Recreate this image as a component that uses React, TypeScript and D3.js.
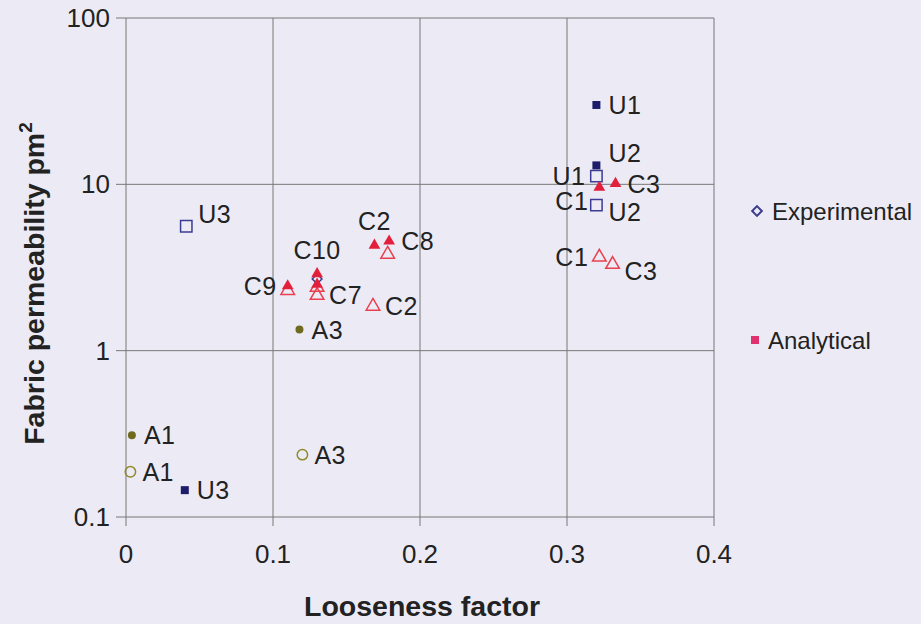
import * as d3 from "d3";

// values (x = looseness factor, y = permeability pm^2)
type Pt = { label: string; x: number; y: number };

const uAnalytical: Pt[] = [
  { label: "U1", x: 0.32, y: 30 },
  { label: "U2", x: 0.32, y: 13 },
  { label: "U3", x: 0.04, y: 0.145 },
];
const uExperimental: Pt[] = [
  { label: "U1", x: 0.32, y: 11.2 },
  { label: "U2", x: 0.32, y: 7.5 },
  { label: "U3", x: 0.041, y: 5.6 },
];
const cAnalytical: Pt[] = [
  { label: "C1", x: 0.322, y: 9.6 },
  { label: "C3", x: 0.333, y: 10.1 },
  { label: "C2", x: 0.169, y: 4.3 },
  { label: "C8", x: 0.179, y: 4.55 },
  { label: "C9", x: 0.11, y: 2.45 },
  { label: "C10", x: 0.13, y: 2.9 },
  { label: "C7", x: 0.13, y: 2.5 },
];
const cExperimental: Pt[] = [
  { label: "C1", x: 0.322, y: 3.65 },
  { label: "C3", x: 0.331, y: 3.3 },
  { label: "C8", x: 0.178, y: 3.8 },
  { label: "C2", x: 0.168, y: 1.85 },
  { label: "C9", x: 0.11, y: 2.3 },
  { label: "C10", x: 0.13, y: 2.4 },
  { label: "C7", x: 0.13, y: 2.15 },
];
const aAnalytical: Pt[] = [
  { label: "A1", x: 0.004, y: 0.31 },
  { label: "A3", x: 0.118, y: 1.34 },
];
const aExperimental: Pt[] = [
  { label: "A1", x: 0.003, y: 0.187 },
  { label: "A3", x: 0.12, y: 0.237 },
];
const diamondPts: Pt[] = [{ label: "", x: 0.13, y: 2.7 }];

const xTicks = [0, 0.1, 0.2, 0.3, 0.4];
const yTicks = [0.1, 1, 10, 100];
const legendItems = ["Experimental", "Analytical"];

// where each label sits relative to its marker
const labelSide: Record<string, string> = {
  "aU1": "right", "aU2": "aboveRight", "aU3": "right",
  "eU1": "left", "eU2": "belowRight", "eU3": "aboveRight",
  "aC1": "belowLeft", "aC3": "right", "aC2": "above", "aC8": "right",
  "aC9": "left", "aC10": "above", "aC7": "none",
  "eC1": "left", "eC3": "belowRight", "eC8": "none", "eC2": "right",
  "eC9": "none", "eC10": "none", "eC7": "right",
  "aA1": "right", "aA3": "right", "eA1": "right", "eA3": "right",
};

const W = 921;
const H = 624;
const left = 126;
const right = 714;
const top = 18;
const bottom = 517;
const FONT = "'Liberation Sans', Arial, sans-serif";

const x = d3.scaleLinear().domain([0, 0.4]).range([left, right]);
const y = d3.scaleLog().domain([0.1, 100]).range([bottom, top]);

const sym = (type: d3.SymbolType, size: number) => d3.symbol().type(type).size(size)() || "";

const Label = ({ p, key2 }: { p: Pt; key2: string }) => {
  const side = labelSide[key2] || "right";
  if (side === "none") return null;
  const cx = x(p.x);
  const cy = y(p.y);
  let dx = 12, dy = 0, anchor = "start";
  if (side === "left") { dx = -11; anchor = "end"; }
  if (side === "above") { dx = 0; dy = -24; anchor = "middle"; }
  if (side === "aboveRight") { dx = 12; dy = -12; }
  if (side === "belowLeft") { dx = -11; dy = 14; anchor = "end"; }
  if (side === "belowRight") { dx = 12; dy = 7; }
  return (
    <text x={cx + dx} y={cy + dy} textAnchor={anchor} dominantBaseline="central"
      fontSize={25} letterSpacing={0.5} fill="#222">
      {p.label}
    </text>
  );
};

const Series = ({ data, path, fill, stroke, prefix }: {
  data: Pt[]; path: string; fill: string; stroke: string; prefix: string;
}) => (
  <g>
    {data.map((p, i) => (
      <path key={i} d={path} transform={`translate(${x(p.x)},${y(p.y)})`}
        fill={fill} stroke={stroke} strokeWidth={1.5} />
    ))}
    {prefix && data.map((p, i) => <Label key={"l" + i} p={p} key2={prefix + p.label} />)}
  </g>
);

export default function App() {
  return (
    <svg width={W} height={H} style={{ position: "absolute", left: 0, top: 0 }} fontFamily={FONT}>
      <rect width={W} height={H} fill="#ecebf5" />

      {/* grid + box */}
      {xTicks.map((t) => (
        <line key={"gx" + t} x1={x(t)} x2={x(t)} y1={top} y2={bottom + 9} stroke="#777" />
      ))}
      {yTicks.map((t) => (
        <line key={"gy" + t} x1={left - 10} x2={right} y1={y(t)} y2={y(t)} stroke="#777" />
      ))}

      {xTicks.map((t) => (
        <text key={"tx" + t} x={x(t)} y={563} textAnchor="middle" fontSize={26} fill="#222">
          {t === 0 ? "0" : t.toFixed(1)}
        </text>
      ))}
      {yTicks.map((t) => (
        <text key={"ty" + t} x={left - 16} y={y(t)} textAnchor="end" dominantBaseline="central"
          fontSize={26} fill="#222">
          {String(t)}
        </text>
      ))}

      <text x={(left + right) / 2 + 2} y={616} textAnchor="middle" fontSize={28.5} fontWeight="bold" fill="#222">
        Looseness factor
      </text>
      <text transform={`translate(44,${(top + bottom) / 2 + 16}) rotate(-90)`} textAnchor="middle"
        fontSize={28.5} fontWeight="bold" fill="#222">
        Fabric permeability  pm<tspan dy={-12} fontSize={19}>2</tspan>
      </text>

      {/* experimental (open) markers */}
      <Series data={uExperimental} path={sym(d3.symbolSquare, 130)} fill="none" stroke="#3c3c94" prefix="e" />
      <Series data={cExperimental} path={sym(d3.symbolTriangle, 80)} fill="none" stroke="#e8404f" prefix="e" />
      <Series data={aExperimental} path={sym(d3.symbolCircle, 85)} fill="none" stroke="#8f8a2a" prefix="e" />
      <Series data={diamondPts} path={sym(d3.symbolDiamond2, 60)} fill="none" stroke="#3b3b8f" prefix="" />

      {/* analytical (filled) markers */}
      <Series data={uAnalytical} path={sym(d3.symbolSquare, 64)} fill="#1c1c6b" stroke="none" prefix="a" />
      <Series data={cAnalytical} path={sym(d3.symbolTriangle, 60)} fill="#e3203c" stroke="none" prefix="a" />
      <Series data={aAnalytical} path={sym(d3.symbolCircle, 50)} fill="#6f6b1e" stroke="none" prefix="a" />

      {/* legend */}
      <path d={sym(d3.symbolDiamond2, 60)} transform="translate(757,211)" fill="none" stroke="#3b3b8f" strokeWidth={2} />
      <text x={772} y={211} dominantBaseline="central" fontSize={24} fill="#222">{legendItems[0]}</text>
      <rect x={751} y={336} width={8} height={8} fill="#e0306e" />
      <text x={768} y={340} dominantBaseline="central" fontSize={24} fill="#222">{legendItems[1]}</text>
    </svg>
  );
}
